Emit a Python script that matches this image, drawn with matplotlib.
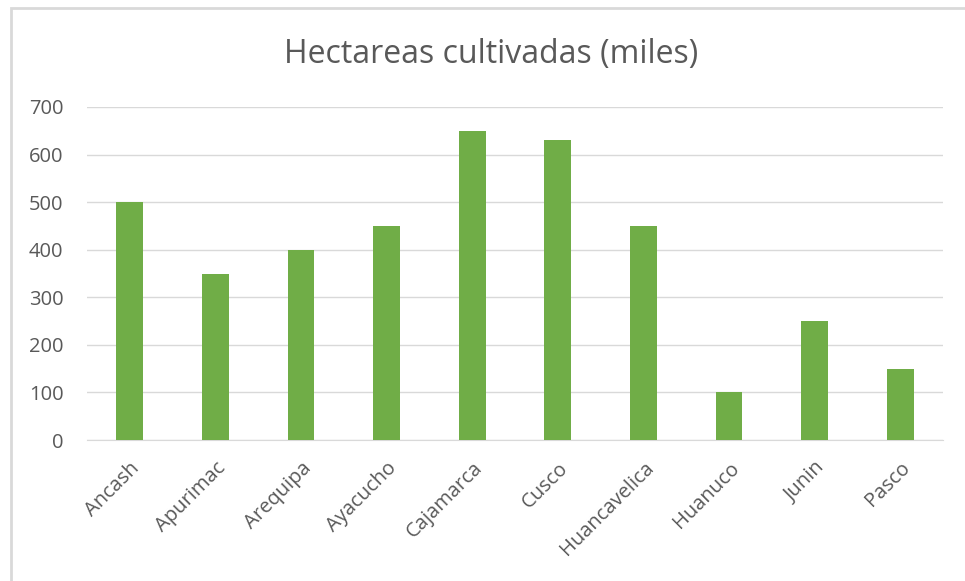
import matplotlib.pyplot as plt
from matplotlib.patches import Rectangle

departamentos = ["Ancash", "Apurimac", "Arequipa", "Ayacucho", "Cajamarca",
                 "Cusco", "Huancavelica", "Huanuco", "Junin", "Pasco"]
hectareas = [500, 350, 400, 450, 650, 630, 450, 100, 250, 150]
y_ticks = [0, 100, 200, 300, 400, 500, 600, 700]

W, H = 965, 581
fig = plt.figure(figsize=(W / 100, H / 100), dpi=100)
plt.rcParams['font.family'] = ['Open Sans', 'DejaVu Sans']

# marco del grafico
fig.patches.append(Rectangle((11 / W, -0.1), 1.2, 1 - 8 / H + 0.1,
                             transform=fig.transFigure, fill=False,
                             edgecolor='#D9D9D9', linewidth=2))

ax = fig.add_axes([87 / W, 1 - 440 / H, (943 - 87) / W, (440 - 107) / H])
x = range(len(departamentos))
ax.bar(x, hectareas, width=0.315, color='#70AD47', zorder=3)

ax.set_xlim(-0.5, len(departamentos) - 0.5)
ax.set_ylim(0, 700)
ax.set_yticks(y_ticks)
ax.set_xticks(list(x))
ax.set_xticklabels(departamentos, rotation=45, ha='right', rotation_mode='anchor')
ax.tick_params(axis='both', length=0, labelsize=14.5, colors='#595959')
ax.tick_params(axis='x', pad=13)
ax.tick_params(axis='y', pad=17)
ax.grid(axis='y', color='#D9D9D9', linewidth=1, zorder=0)
for s in ['top', 'right', 'left']:
    ax.spines[s].set_visible(False)
ax.spines['bottom'].set_color('#D9D9D9')

fig.text(491 / W, 1 - 55 / H, "Hectareas cultivadas (miles)", ha='center',
         va='center', fontsize=23, color='#595959')

fig.savefig('out.png', dpi=100)
